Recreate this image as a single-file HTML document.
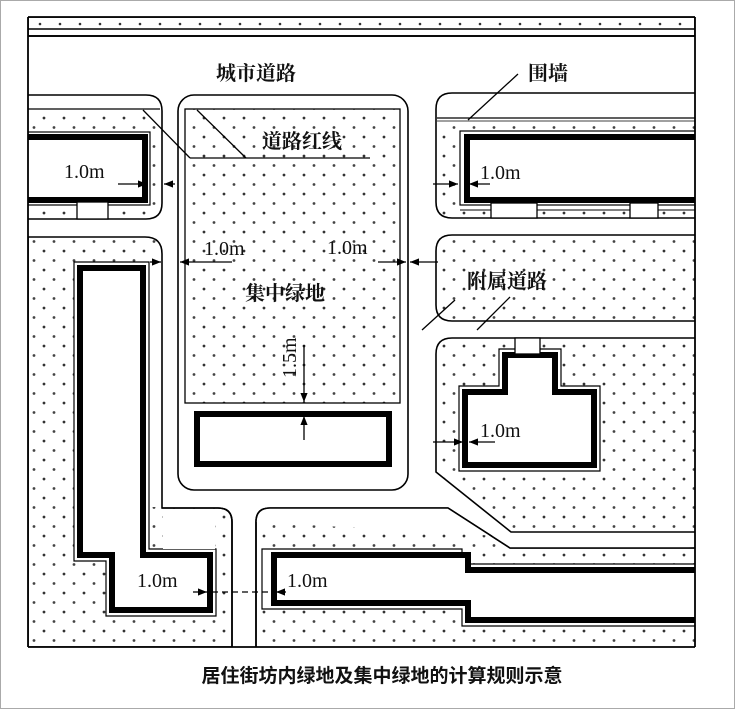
<!DOCTYPE html>
<html><head><meta charset="utf-8"><style>
html,body{margin:0;padding:0;background:#fff}
svg{display:block}
text{font-family:"Liberation Serif","Noto Serif CJK SC",serif;fill:#111}
.cn{font-family:"Noto Serif CJK SC","Noto Sans CJK SC",serif;font-weight:bold}
</style></head><body>
<svg width="735" height="709" viewBox="0 0 735 709" xmlns="http://www.w3.org/2000/svg">
<defs>
<pattern id="d" width="20" height="19" patternUnits="userSpaceOnUse">
<circle cx="4" cy="4" r="1.4" fill="#333"/><circle cx="14" cy="13.5" r="1.4" fill="#444"/>
</pattern>
<marker id="a" viewBox="0 0 10 10" refX="10" refY="5" markerWidth="7" markerHeight="7" orient="auto-start-reverse"><path d="M0,1 L10,5 L0,9z" fill="#000"/></marker>
<clipPath id="c"><rect x="28" y="17" width="667" height="630"/></clipPath>
</defs>
<rect x="0.5" y="0.5" width="734" height="708" fill="#fff" stroke="#aaa"/>
<g fill="none" stroke="#000" stroke-width="1.6" clip-path="url(#c)">
<!-- top strip -->
<rect x="28" y="17" width="667" height="19" fill="#fff"/>
<line x1="28" y1="29" x2="695" y2="29"/>
<g fill="#333" stroke="none"><circle cx="40" cy="24" r="1.3"/><circle cx="60" cy="24" r="1.3"/><circle cx="80" cy="24" r="1.3"/><circle cx="100" cy="24" r="1.3"/><circle cx="120" cy="24" r="1.3"/><circle cx="140" cy="24" r="1.3"/><circle cx="160" cy="24" r="1.3"/><circle cx="180" cy="24" r="1.3"/><circle cx="200" cy="24" r="1.3"/><circle cx="220" cy="24" r="1.3"/><circle cx="240" cy="24" r="1.3"/><circle cx="260" cy="24" r="1.3"/><circle cx="280" cy="24" r="1.3"/><circle cx="300" cy="24" r="1.3"/><circle cx="320" cy="24" r="1.3"/><circle cx="340" cy="24" r="1.3"/><circle cx="360" cy="24" r="1.3"/><circle cx="380" cy="24" r="1.3"/><circle cx="400" cy="24" r="1.3"/><circle cx="420" cy="24" r="1.3"/><circle cx="440" cy="24" r="1.3"/><circle cx="460" cy="24" r="1.3"/><circle cx="480" cy="24" r="1.3"/><circle cx="500" cy="24" r="1.3"/><circle cx="520" cy="24" r="1.3"/><circle cx="540" cy="24" r="1.3"/><circle cx="560" cy="24" r="1.3"/><circle cx="580" cy="24" r="1.3"/><circle cx="600" cy="24" r="1.3"/><circle cx="620" cy="24" r="1.3"/><circle cx="640" cy="24" r="1.3"/><circle cx="660" cy="24" r="1.3"/><circle cx="680" cy="24" r="1.3"/></g>

<!-- top-left block -->
<path d="M20,95 H146 Q162,95 162,111 V203 Q162,219 146,219 H20"/>
<rect x="29" y="110" width="132" height="108" fill="url(#d)" stroke="none"/>
<line x1="28" y1="109" x2="160" y2="109" stroke-width="1.2"/>
<rect x="20" y="132" width="130" height="73" fill="#fff" stroke-width="1.2"/>
<rect x="20" y="137" width="125" height="63" fill="#fff" stroke-width="6"/>
<rect x="77" y="202" width="31" height="17" fill="#fff" stroke-width="1.3"/>

<!-- left region -->
<path d="M28,237 H145 Q162,237 162,254 V508 H218 Q232,508 232,522 V647 H28z" fill="url(#d)"/>
<path d="M74,262 H149 V549 H216 V616 H106 V561 H74z" fill="#fff" stroke-width="1.2"/>
<path d="M80,268 H143 V555 H210 V610 H112 V555 H80z" fill="#fff" stroke-width="6"/>
<rect x="150" y="256" width="11" height="251" fill="#fff" stroke="none"/>
<rect x="163" y="509" width="52" height="40" fill="#fff" stroke="none"/>

<!-- central block -->
<rect x="178" y="95" width="230" height="395" rx="16" fill="#fff"/>
<rect x="185" y="109" width="215" height="294" fill="url(#d)" stroke-width="1.3"/>
<line x1="190" y1="158" x2="370" y2="158" stroke-width="1.3"/>
<line x1="143" y1="110" x2="190" y2="158" stroke-width="1.3"/>
<line x1="197" y1="110" x2="246" y2="158" stroke-width="1.3"/>
<rect x="197" y="414" width="192" height="50" fill="#fff" stroke-width="6"/>

<!-- top-right block -->
<path d="M705,93 H452 Q436,93 436,109 V202 Q436,218 452,218 H705"/>
<rect x="437" y="121" width="258" height="96" fill="url(#d)" stroke="none"/>
<line x1="437" y1="118" x2="695" y2="118" stroke-width="1.2"/>
<line x1="437" y1="121" x2="695" y2="121" stroke-width="0.8"/>
<rect x="460" y="131" width="250" height="74" fill="#fff" stroke-width="1.2"/>
<rect x="467" y="137" width="245" height="63" fill="#fff" stroke-width="6"/>
<line x1="460" y1="210" x2="695" y2="210" stroke-width="1"/>
<rect x="491" y="203" width="46" height="15" fill="#fff" stroke-width="1.3"/>
<rect x="630" y="203" width="28" height="15" fill="#fff" stroke-width="1.3"/>
<line x1="468" y1="120" x2="518" y2="74" stroke-width="1.3"/>

<!-- middle right -->
<path d="M705,235 H452 Q436,235 436,251 V305 Q436,321 452,321 H705" fill="url(#d)"/>
<line x1="422" y1="330" x2="455" y2="300" stroke-width="1.3"/>
<line x1="477" y1="330" x2="510" y2="297" stroke-width="1.3"/>

<!-- lower right block -->
<path d="M705,338 H452 Q436,338 436,354 V472 L511,532 H705z" fill="url(#d)"/>
<path d="M499,349 H561 V386 H600 V471 H459 V386 H499z" fill="#fff" stroke-width="1.2"/>
<path d="M505,355 H555 V392 H594 V465 H465 V392 H505z" fill="#fff" stroke-width="6"/>
<rect x="515" y="338" width="25" height="16" fill="#fff" stroke-width="1.3"/>

<!-- bottom-right region -->
<path d="M256,660 V522 Q256,508 270,508 H448 L510,548 H705 V660z" fill="url(#d)"/>
<path d="M262,549 H462 V564 H710 V626 H462 V609 H262z" fill="#fff" stroke-width="1.2"/>
<path d="M274,555 H468 V570 H710 V620 H468 V603 H274z" fill="#fff" stroke-width="6"/>
<path d="M256,522 Q256,508 270,508 H448 L510,548 H705" fill="#fff" stroke="none"/>
<path d="M256,660 V522 Q256,508 270,508 H448 L510,548 H705" stroke-width="1.6"/>
<path d="M162,508 H218 Q232,508 232,522 V660" stroke-width="1.6"/>
</g>
<g fill="none" stroke="#000" stroke-width="1.8">
<line x1="28" y1="17" x2="28" y2="647"/>
<line x1="695" y1="17" x2="695" y2="647"/>
<line x1="28" y1="647" x2="695" y2="647"/>
<line x1="28" y1="17" x2="695" y2="17"/>
<line x1="28" y1="36" x2="695" y2="36"/>
</g>

<!-- dimension arrows -->
<g stroke="#000" stroke-width="1.3" fill="none">
<line x1="118" y1="184" x2="147" y2="184" marker-end="url(#a)"/><line x1="175" y1="184" x2="164" y2="184" marker-end="url(#a)"/>
<line x1="433" y1="184" x2="458" y2="184" marker-end="url(#a)"/><line x1="490" y1="184" x2="469" y2="184" marker-end="url(#a)"/>
<line x1="150" y1="262" x2="161" y2="262" marker-end="url(#a)"/><line x1="232" y1="262" x2="180" y2="262" marker-end="url(#a)"/>
<line x1="378" y1="262" x2="406" y2="262" marker-end="url(#a)"/><line x1="438" y1="262" x2="410" y2="262" marker-end="url(#a)"/>
<line x1="304" y1="345" x2="304" y2="402" marker-end="url(#a)"/><line x1="304" y1="440" x2="304" y2="416" marker-end="url(#a)"/>
<line x1="433" y1="442" x2="463" y2="442" marker-end="url(#a)"/><line x1="495" y1="442" x2="469" y2="442" marker-end="url(#a)"/>
<line x1="193" y1="592" x2="207" y2="592" marker-end="url(#a)"/>
<line x1="212" y1="592" x2="272" y2="592" stroke-dasharray="6,4"/>
<line x1="286" y1="592" x2="276" y2="592" marker-end="url(#a)"/>
</g>

<!-- labels -->
<g font-size="20">
<text x="216" y="80" class="cn">城市道路</text>
<text x="528" y="80" class="cn">围墙</text>
<text x="262" y="148" class="cn">道路红线</text>
<text x="245" y="300" class="cn">集中绿地</text>
<text x="467" y="288" class="cn">附属道路</text>
<text x="64" y="178">1.0m</text>
<text x="480" y="179">1.0m</text>
<text x="204" y="255">1.0m</text>
<text x="327" y="254">1.0m</text>
<text x="480" y="437">1.0m</text>
<text x="137" y="587">1.0m</text>
<text x="287" y="587">1.0m</text>
<text transform="translate(296,378) rotate(-90)">1.5m</text>
</g>
<text x="382" y="682" text-anchor="middle" font-size="19" font-weight="bold" style="font-family:'Noto Sans CJK SC',sans-serif">居住街坊内绿地及集中绿地的计算规则示意</text>
</svg>
</body></html>
